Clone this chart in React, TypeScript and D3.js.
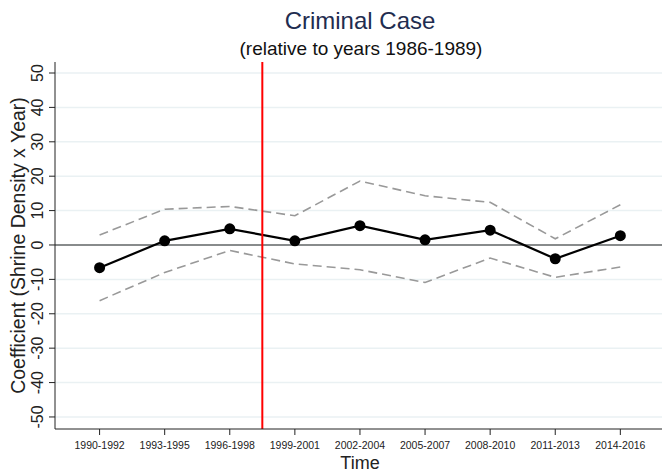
import React from "react";
import * as d3 from "d3";

const periods = ["1990-1992","1993-1995","1996-1998","1999-2001","2002-2004","2005-2007","2008-2010","2011-2013","2014-2016"];
const coef = [-6.6, 1.2, 4.7, 1.2, 5.6, 1.5, 4.3, -4.0, 2.7];
const upper = [2.9, 10.4, 11.2, 8.5, 18.6, 14.3, 12.4, 1.8, 11.7];
const lower = [-16.2, -8.0, -1.6, -5.5, -7.2, -10.9, -3.8, -9.4, -6.4];
const yTicks = [-50, -40, -30, -20, -10, 0, 10, 20, 30, 40, 50];
const treatmentIndex = 2.5;

export default function App() {
  const W = 662, H = 473;
  const left = 55, right = 662, top = 62, bottom = 429;
  const x = d3.scaleLinear().domain([-0.685, 8.64]).range([left, right]);
  const y = d3.scaleLinear().domain([-53.5, 53.2]).range([bottom, top]);
  const idx = periods.map((_, i) => i);
  const line = (vals: number[]) =>
    d3.line<number>().x((i) => x(i)).y((i) => y(vals[i]))(idx) || "";
  const font = "'Liberation Sans', Arial, sans-serif";
  return (
    <svg width={W} height={H} style={{ position: "absolute", left: 0, top: 0, background: "#fff" }} fontFamily={font}>
      <rect width={W} height={H} fill="#fff" />
      {yTicks.map((t) => (
        <line key={"g" + t} x1={left} x2={right} y1={y(t)} y2={y(t)} stroke="#eaf1f3" strokeWidth={1.5} />
      ))}
      <line x1={left} x2={right} y1={y(0)} y2={y(0)} stroke="#222" strokeWidth={1.2} />
      <path d={line(upper)} fill="none" stroke="#999" strokeWidth={1.6} strokeDasharray="9,5" />
      <path d={line(lower)} fill="none" stroke="#999" strokeWidth={1.6} strokeDasharray="9,5" />
      <path d={line(coef)} fill="none" stroke="#000" strokeWidth={2.2} />
      {idx.map((i) => (
        <circle key={"c" + i} cx={x(i)} cy={y(coef[i])} r={5.5} fill="#000" />
      ))}
      <line x1={x(treatmentIndex)} x2={x(treatmentIndex)} y1={top} y2={bottom} stroke="#ff0000" strokeWidth={2} />
      <line x1={left} x2={left} y1={top} y2={bottom} stroke="#222" strokeWidth={1} />
      <line x1={left} x2={right} y1={bottom} y2={bottom} stroke="#222" strokeWidth={1} />
      {yTicks.map((t) => (
        <g key={"yt" + t}>
          <line x1={left - 6} x2={left} y1={y(t)} y2={y(t)} stroke="#222" />
          <text transform={`translate(${left - 12},${y(t)}) rotate(-90)`} textAnchor="middle" fontSize={16} fill="#222">
            {t}
          </text>
        </g>
      ))}
      {periods.map((p, i) => (
        <g key={"xt" + i}>
          <line x1={x(i)} x2={x(i)} y1={bottom} y2={bottom + 6} stroke="#222" />
          <text x={x(i)} y={bottom + 20} textAnchor="middle" fontSize={10.5} fill="#222">
            {p}
          </text>
        </g>
      ))}
      <text x={360} y={469} textAnchor="middle" fontSize={18} fill="#222">Time</text>
      <text transform={`translate(25,${(top + bottom) / 2}) rotate(-90)`} textAnchor="middle" fontSize={19.5} fill="#222">
        Coefficient (Shrine Density x Year)
      </text>
      <text x={360} y={29} textAnchor="middle" fontSize={24} fill="#1f2d50">Criminal Case</text>
      <text x={361} y={55} textAnchor="middle" fontSize={19} fill="#111">(relative to years 1986-1989)</text>
    </svg>
  );
}
